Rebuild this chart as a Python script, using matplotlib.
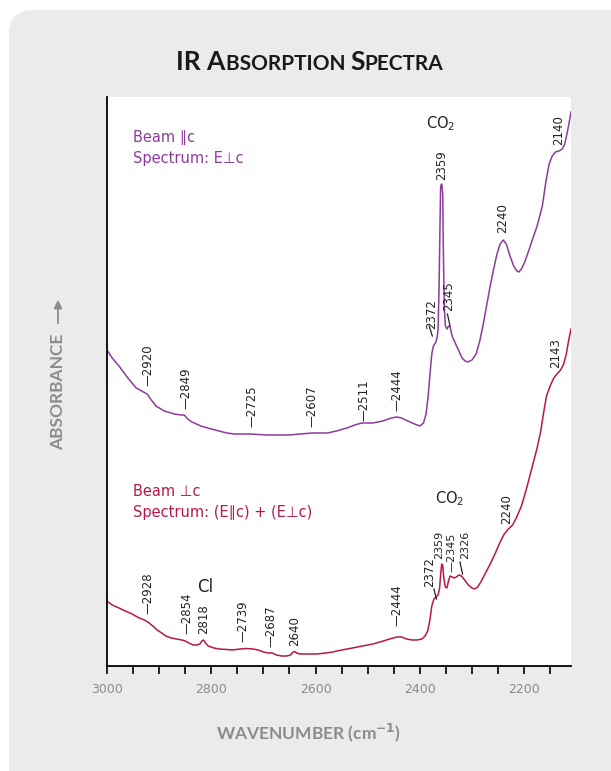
import matplotlib
matplotlib.use("Agg")
import matplotlib.pyplot as plt
from matplotlib.patches import FancyBboxPatch

# upper spectrum: beam || c, spectrum E perp c
wn_par = [3000, 2990, 2977, 2960, 2944, 2930, 2923, 2915, 2906, 2890, 2871, 2858,
          2852, 2845, 2837, 2820, 2800, 2785, 2770, 2756, 2725, 2694, 2670, 2650,
          2630, 2606, 2590, 2577, 2560, 2540, 2525, 2511, 2490, 2471, 2455, 2444,
          2435, 2423, 2410, 2400, 2393, 2388, 2384, 2380, 2377, 2374, 2370, 2367,
          2365, 2363, 2361, 2360, 2358, 2356, 2355, 2353, 2351, 2348, 2345, 2342,
          2338, 2333, 2325, 2319, 2313, 2308, 2300, 2292, 2285, 2279, 2272, 2265,
          2258, 2252, 2246, 2240, 2234, 2227, 2220, 2214, 2210, 2205, 2198, 2190,
          2183, 2175, 2165, 2158, 2152, 2146, 2140, 2133, 2127, 2122, 2117, 2113,
          2110]
abs_par = [3.16, 3.08, 3.00, 2.88, 2.78, 2.74, 2.72, 2.66, 2.60, 2.55, 2.52, 2.51,
           2.51, 2.47, 2.44, 2.40, 2.37, 2.35, 2.33, 2.32, 2.32, 2.31, 2.31, 2.31,
           2.32, 2.33, 2.33, 2.33, 2.35, 2.38, 2.41, 2.43, 2.43, 2.45, 2.48, 2.49,
           2.48, 2.45, 2.42, 2.40, 2.43, 2.52, 2.70, 2.95, 3.12, 3.20, 3.23, 3.28,
           3.36, 3.80, 4.50, 4.80, 4.82, 4.72, 4.20, 3.60, 3.40, 3.37, 3.40, 3.39,
           3.30, 3.24, 3.15, 3.08, 3.05, 3.04, 3.06, 3.12, 3.25, 3.40, 3.60, 3.80,
           3.98, 4.12, 4.22, 4.26, 4.22, 4.10, 4.00, 3.95, 3.94, 3.97, 4.05, 4.17,
           4.28, 4.40, 4.60, 4.85, 5.02, 5.10, 5.14, 5.15, 5.17, 5.22, 5.34, 5.45,
           5.54]

# lower spectrum: beam perp c, spectrum (E||c)+(E perp c)
wn_perp = [3000, 2990, 2977, 2965, 2952, 2938, 2928, 2919, 2910, 2904, 2895, 2887,
           2877, 2867, 2856, 2850, 2843, 2835, 2828, 2822, 2818, 2815, 2811, 2806,
           2795, 2785, 2770, 2760, 2745, 2733, 2720, 2710, 2700, 2690, 2683, 2675,
           2665, 2655, 2648, 2643, 2640, 2636, 2630, 2615, 2598, 2580, 2567, 2550,
           2529, 2510, 2490, 2470, 2458, 2444, 2435, 2425, 2415, 2405, 2396, 2390,
           2385, 2381, 2377, 2373, 2369, 2365, 2362, 2360, 2358, 2356, 2354, 2351,
           2348, 2345, 2342, 2338, 2334, 2330, 2325, 2320, 2314, 2307, 2300, 2295,
           2289, 2283, 2275, 2265, 2255, 2246, 2238, 2230, 2222, 2215, 2205, 2195,
           2185, 2175, 2168, 2162, 2157, 2150, 2143, 2137, 2130, 2124, 2119, 2115,
           2112, 2110]
abs_perp = [0.65, 0.61, 0.58, 0.55, 0.52, 0.48, 0.46, 0.43, 0.39, 0.36, 0.33, 0.30,
            0.28, 0.27, 0.26, 0.25, 0.23, 0.21, 0.21, 0.22, 0.25, 0.26, 0.23, 0.20,
            0.18, 0.17, 0.165, 0.16, 0.17, 0.175, 0.17, 0.16, 0.14, 0.13, 0.13, 0.11,
            0.10, 0.10, 0.11, 0.14, 0.145, 0.13, 0.12, 0.12, 0.12, 0.13, 0.14, 0.16,
            0.18, 0.20, 0.22, 0.25, 0.27, 0.29, 0.29, 0.27, 0.26, 0.26, 0.27, 0.30,
            0.35, 0.45, 0.60, 0.67, 0.69, 0.71, 0.78, 0.92, 1.02, 1.00, 0.88, 0.79,
            0.78, 0.85, 0.90, 0.89, 0.88, 0.89, 0.91, 0.90, 0.86, 0.81, 0.78, 0.77,
            0.79, 0.84, 0.92, 1.02, 1.13, 1.24, 1.32, 1.37, 1.41, 1.48, 1.60, 1.78,
            1.98, 2.18, 2.35, 2.55, 2.70, 2.80, 2.88, 2.92, 2.96, 3.02, 3.12, 3.24,
            3.32, 3.37]

# peak labels: (text, wavenumber, absorbance at text bottom, leading dash?)
peaks_par = [("2920", 2921, 2.80, True), ("2849", 2848, 2.57, True),
             ("2725", 2722, 2.39, True), ("2607", 2606, 2.39, True),
             ("2511", 2508, 2.45, True), ("2444", 2444, 2.55, True),
             ("2372", 2377, 3.37, False), ("2359", 2358, 4.86, False),
             ("2345", 2344, 3.55, False), ("2240", 2241, 4.33, False),
             ("2140", 2134, 5.21, False)]
peaks_perp = [("2928", 2921, 0.52, True), ("2854", 2846, 0.32, True),
              ("2818", 2815, 0.32, False), ("2739", 2740, 0.24, True),
              ("2687", 2686, 0.19, True), ("2640", 2640, 0.20, False),
              ("2444", 2444, 0.40, True), ("2372", 2382, 0.79, False),
              ("2359", 2362, 1.07, False), ("2345", 2339, 0.94, True),
              ("2326", 2314, 1.07, False), ("2240", 2234, 1.42, False),
              ("2143", 2139, 2.98, False)]

c_par = "#8e3a9e"
c_perp = "#b8174a"
grey = "#8c8c8c"

fig = plt.figure(figsize=(6.11, 7.71), dpi=100)
fig.patch.set_facecolor("white")
panel = FancyBboxPatch((9 / 611, -0.05), 1.2, 1.05 - 10 / 771,
                       boxstyle="round,pad=0,rounding_size=0.04",
                       transform=fig.transFigure, fc="#ebebeb", ec="none",
                       zorder=-10, mutation_aspect=611 / 771)
fig.patches.append(panel)

ax = fig.add_axes([107 / 611, 105 / 771, 464 / 611, 569 / 771])
ax.set_facecolor("white")
ax.plot(wn_par, abs_par, color=c_par, lw=1.1, solid_joinstyle="round")
ax.plot(wn_perp, abs_perp, color=c_perp, lw=1.1, solid_joinstyle="round")
ax.set_xlim(3000, 2110)
ax.set_ylim(0, 5.69)
ax.spines["top"].set_visible(False)
ax.spines["right"].set_visible(False)
ax.spines["left"].set_linewidth(1.3)
ax.spines["bottom"].set_linewidth(1.3)
ax.set_yticks([])
ax.set_xticks(range(3000, 2110, -50))
ax.set_xticklabels([str(v) if v % 200 == 0 else "" for v in range(3000, 2110, -50)])
ax.tick_params(axis="x", direction="out", length=6, width=1.2, color="black",
               labelcolor=grey, labelsize=9, pad=6)

for peaks in (peaks_par, peaks_perp):
    for txt, x, y, dash in peaks:
        s = "\u2014" + txt if dash else txt
        fs = 8 if peaks is peaks_perp and txt in ("2359", "2345", "2326") else 8.5
        ax.text(x, y, s, rotation=90, ha="center", va="bottom", fontsize=fs,
                color="#222222")

# slanted leader marks
for x0, y0, x1, y1 in [(2376, 3.30, 2382, 3.40), (2342, 3.40, 2347, 3.52),
                       (2368, 0.67, 2373, 0.77), (2318, 0.92, 2323, 1.04)]:
    ax.plot([x0, x1], [y0, y1], color="#222222", lw=0.9)

ax.text(2360, 5.42, "CO$_2$", ha="center", va="center", fontsize=10.5, color="#222222")
ax.text(2343, 1.67, "CO$_2$", ha="center", va="center", fontsize=10.5, color="#222222")
ax.text(2812, 0.79, "Cl", ha="center", va="center", fontsize=12, color="#222222")

ax.text(2950, 5.29, "Beam \u2225c", color=c_par, fontsize=10.5, va="center")
ax.text(2950, 5.08, "Spectrum: E\u22a5c", color=c_par, fontsize=10.5, va="center")
ax.text(2950, 1.75, "Beam \u22a5c", color=c_perp, fontsize=10.5, va="center")
ax.text(2950, 1.54, "Spectrum: (E\u2225c) + (E\u22a5c)", color=c_perp, fontsize=10.5,
        va="center")

# title in small caps, assembled from pieces
pieces = [("IR A", 19), ("BSORPTION ", 15), ("S", 19), ("PECTRA", 15)]
renderer = fig.canvas.get_renderer()
texts = []
for s, fs in pieces:
    t = fig.text(0, 1 - 70 / 771, s, fontsize=fs, fontweight="bold",
                 family="Lato", va="baseline", ha="left", color="#1a1a1a")
    texts.append(t)
widths = [t.get_window_extent(renderer).width for t in texts]
x = (310 - sum(widths) / 2) / 611
for t, w in zip(texts, widths):
    t.set_x(x)
    x += w / 611

fig.text(309 / 611, 1 - 733 / 771, "WAVENUMBER (cm$^{\\mathbf{-1}}$)", ha="center",
         va="center", fontsize=12.5, fontweight="bold", family="Lato", color=grey)
fig.text(58 / 611, 1 - 392 / 771, "ABSORBANCE", rotation=90, ha="center",
         va="center", fontsize=12.5, fontweight="bold", family="Lato", color=grey)
ax.annotate("", xy=(58 / 611, 1 - 297 / 771), xytext=(58 / 611, 1 - 326 / 771),
            xycoords="figure fraction", textcoords="figure fraction",
            arrowprops=dict(arrowstyle="-|>", color=grey, lw=1.3,
                            mutation_scale=12))

fig.savefig("out.png", dpi=100)
